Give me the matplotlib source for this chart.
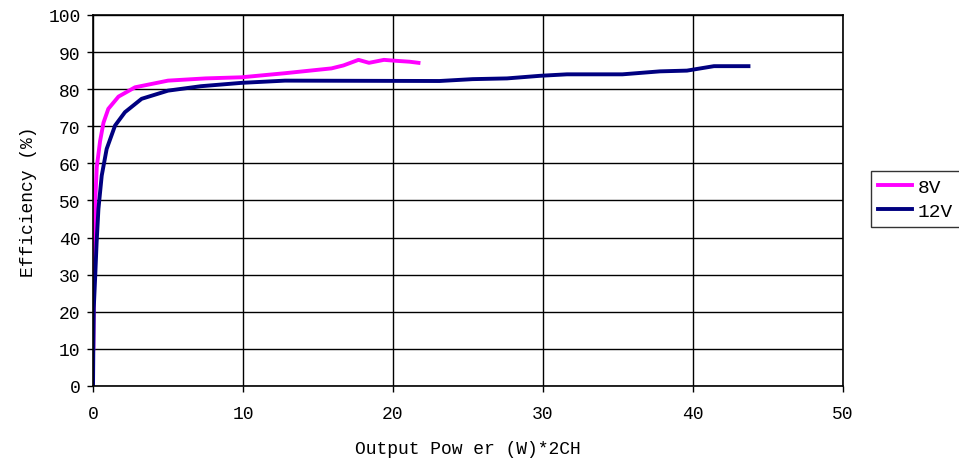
import matplotlib
matplotlib.use("Agg")
import matplotlib.pyplot as plt

# 8V curve (output power W*2CH, efficiency %)
power_8v = [0.02, 0.05, 0.1, 0.15, 0.25, 0.47, 0.7, 1.02, 1.7, 2.8, 5.0, 7.5,
            9.9, 12.8, 15.9, 16.7, 17.7, 18.4, 19.4, 20.0, 21.1, 21.7]
eff_8v = [10, 25, 40, 50, 59, 66, 71, 74.7, 78, 80.5, 82.3, 82.9,
          83.2, 84.3, 85.6, 86.4, 87.9, 87.1, 87.9, 87.7, 87.4, 87.1]

# 12V curve
power_12v = [0.0, 0.02, 0.05, 0.15, 0.24, 0.36, 0.58, 0.91, 1.47, 2.13, 3.24,
             5.0, 7.2, 9.9, 12.8, 23.1, 25.3, 27.6, 29.8, 31.6, 35.3, 37.8,
             39.6, 41.4, 43.7]
eff_12v = [0, 10, 21, 30, 38.7, 47.7, 56.7, 63.9, 70.2, 73.8, 77.4,
           79.6, 80.8, 81.7, 82.3, 82.2, 82.7, 82.9, 83.6, 84.0, 84.0, 84.8,
           85.0, 86.2, 86.2]

plt.rcParams["font.family"] = ["Liberation Mono", "DejaVu Sans Mono"]

fig = plt.figure(figsize=(9.59, 4.64), dpi=100)
ax = fig.add_axes([0.097, 0.166, 0.782, 0.7996])

ax.plot(power_8v, eff_8v, color="#FF00FF", linewidth=2.8, label="8V",
        solid_joinstyle="round")
ax.plot(power_12v, eff_12v, color="#000080", linewidth=2.8, label="12V",
        solid_joinstyle="round")

ax.set_xlim(0, 50)
ax.set_ylim(0, 100)
ax.set_xticks(range(0, 51, 10))
ax.set_yticks(range(0, 101, 10))
ax.grid(True, color="black", linewidth=1.0)
ax.set_axisbelow(True)
for sp in ax.spines.values():
    sp.set_color("black")
    sp.set_linewidth(1.2)
ax.tick_params(direction="out", length=4, width=1, labelsize=13, colors="black")
ax.tick_params(axis="x", pad=10)
ax.tick_params(axis="y", pad=5)

ax.set_xlabel("Output Pow er (W)*2CH", fontsize=13, labelpad=13)
ax.set_ylabel("Efficiency (%)", fontsize=13, labelpad=8)

leg = ax.legend(loc="center left", bbox_to_anchor=(1.037, 0.504), fontsize=14,
                frameon=True, fancybox=False, edgecolor="black",
                handlelength=1.7, borderpad=0.4, labelspacing=0.3,
                handletextpad=0.3, borderaxespad=0)
leg.get_frame().set_linewidth(1.0)

fig.savefig("out.png", dpi=100)
